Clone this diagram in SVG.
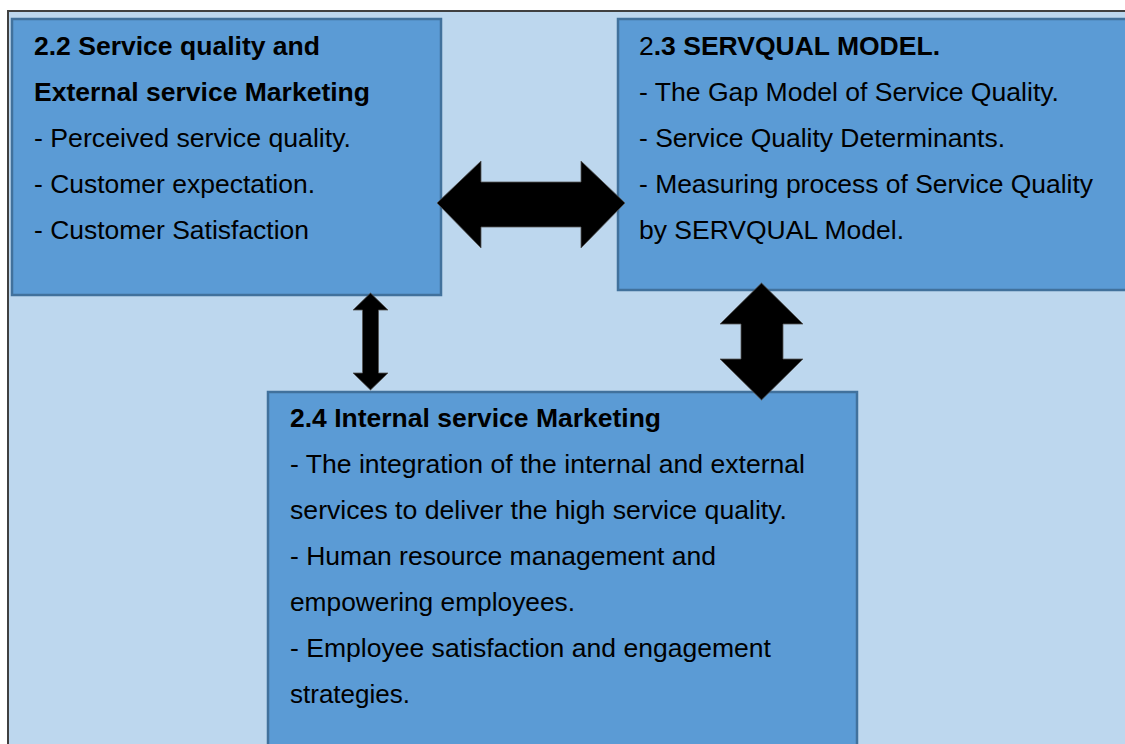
<svg xmlns="http://www.w3.org/2000/svg" width="1125" height="744" viewBox="0 0 1125 744">
<style>
.frame{fill:#BDD7EE;stroke:#404040;stroke-width:2}
.box{fill:#5B9BD5;stroke:#41719C;stroke-width:2.5}
.t{font-family:"Liberation Sans",Arial,sans-serif;font-size:26px;fill:#000}
.b{font-weight:bold}
.arrow{fill:#000;stroke:#555;stroke-width:0.8}
</style>
<rect width="1125" height="744" fill="#fff"/>
<rect class="frame" x="8" y="11" width="1130" height="745"/>
<g id="node-22">
<rect class="box" x="12" y="19" width="429" height="276"/>
<text class="t b" x="34" y="55" textLength="286" lengthAdjust="spacingAndGlyphs">2.2 Service quality and</text>
<text class="t b" x="34" y="101" textLength="336" lengthAdjust="spacingAndGlyphs">External service Marketing</text>
<text class="t" x="34" y="147" textLength="317" lengthAdjust="spacingAndGlyphs">- Perceived service quality.</text>
<text class="t" x="34" y="193" textLength="281" lengthAdjust="spacingAndGlyphs">- Customer expectation.</text>
<text class="t" x="34" y="239" textLength="275" lengthAdjust="spacingAndGlyphs">- Customer Satisfaction</text>
</g>
<g id="node-23">
<rect class="box" x="618" y="19" width="520" height="271"/>
<text class="t" x="639" y="55" textLength="301" lengthAdjust="spacingAndGlyphs">2<tspan class="b">.3 SERVQUAL MODEL.</tspan></text>
<text class="t" x="639" y="101" textLength="420" lengthAdjust="spacingAndGlyphs">- The Gap Model of Service Quality.</text>
<text class="t" x="639" y="147" textLength="366" lengthAdjust="spacingAndGlyphs">- Service Quality Determinants.</text>
<text class="t" x="639" y="193" textLength="454" lengthAdjust="spacingAndGlyphs">- Measuring process of Service Quality</text>
<text class="t" x="639" y="239" textLength="265" lengthAdjust="spacingAndGlyphs">by SERVQUAL Model.</text>
</g>
<g id="node-24">
<rect class="box" x="268" y="392" width="589" height="370"/>
<text class="t b" x="290" y="427" textLength="371" lengthAdjust="spacingAndGlyphs">2.4 Internal service Marketing</text>
<text class="t" x="290" y="473" textLength="515" lengthAdjust="spacingAndGlyphs">- The integration of the internal and external</text>
<text class="t" x="290" y="519" textLength="497" lengthAdjust="spacingAndGlyphs">services to deliver the high service quality.</text>
<text class="t" x="290" y="565" textLength="426" lengthAdjust="spacingAndGlyphs">- Human resource management and</text>
<text class="t" x="290" y="611" textLength="285" lengthAdjust="spacingAndGlyphs">empowering employees.</text>
<text class="t" x="290" y="657" textLength="481" lengthAdjust="spacingAndGlyphs">- Employee satisfaction and engagement</text>
<text class="t" x="290" y="703" textLength="120" lengthAdjust="spacingAndGlyphs">strategies.</text>
</g>
<g id="connectors">
<polygon class="arrow" points="437,203 481,161 481,182 581,182 581,161 625,203 581,248 581,227 481,227 481,248"/>
<polygon class="arrow" points="370.5,293 388,310 378.5,310 378.5,373 388,373 370.5,390 353,373 362.5,373 362.5,310 353,310"/>
<polygon class="arrow" points="761.5,283 803,324 783,324 783,359 803,359 761.5,400 720,359 741,359 741,324 720,324"/>
</g>
</svg>
